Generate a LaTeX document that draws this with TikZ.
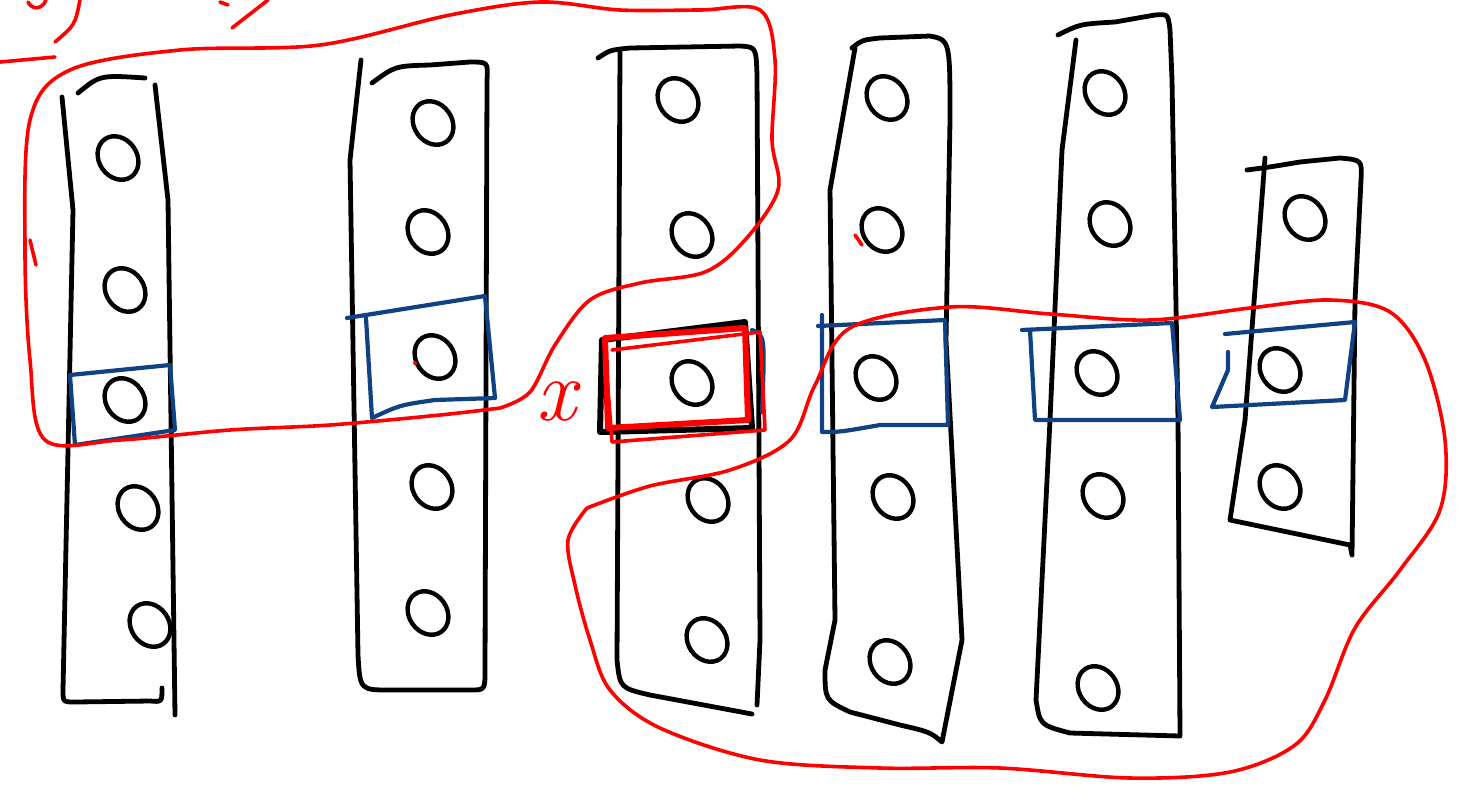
\documentclass[tikz,border=0pt]{standalone}
\usetikzlibrary{shapes.geometric}
\definecolor{penblue}{RGB}{14,66,130}
\definecolor{penred}{RGB}{255,0,0}
\begin{document}
\begin{tikzpicture}[x=0.5pt, y=-0.5pt, line cap=round, line join=round,
    col/.style={line width=2.4pt, black},
    neuron/.style={draw, ellipse, line width=2.2pt, minimum width=19pt, minimum height=23pt, inner sep=0pt, rotate=35},
    sel/.style={line width=2.1pt, penblue},
    loop/.style={line width=1.8pt, penred},
    lab/.style={text=penred, inner sep=1pt}]
  \useasboundingbox (0,0) rectangle (1460,788);
  % column 1
  \draw[col] (62,97) -- (73,210) -- (63,690) .. controls (63,702) .. (75,702) -- (150,701) .. controls (162,702) .. (162,688);
  \draw[col] (155,85) -- (168,200) -- (175,715);
  \draw[col] (78,93) .. controls (100,75) .. (145,78);
  % column 2
  \draw[col] (361,60) -- (350,160) -- (358,655) .. controls (360,690) .. (390,690) -- (470,690) .. controls (485,690) .. (485,670) -- (487,80) .. controls (488,62) .. (470,62) -- (430,65) .. controls (395,66) .. (372,83);
  % column 3
  \draw[col] (620,52) -- (617,660) .. controls (620,688) .. (650,695) -- (752,714);
  \draw[col] (757,705) -- (760,640) -- (757,75) .. controls (756,47) .. (740,46) -- (630,48) .. controls (610,50) .. (598,58);
  % column 4
  \draw[col] (855,48) -- (830,190) -- (835,620) -- (825,670) .. controls (825,700) .. (850,712) -- (900,725) .. controls (930,732) .. (942,742) -- (962,640) -- (946,340) -- (950,120) .. controls (950,40) .. (930,36) -- (880,38) .. controls (862,40) .. (852,48);
  % column 5
  \draw[col] (1076,40) -- (1062,150) -- (1050,420) -- (1036,700) .. controls (1040,725) .. (1070,733) -- (1180,736) -- (1178,420) -- (1172,80) -- (1170,30) .. controls (1168,14) .. (1155,15) -- (1115,22) .. controls (1080,24) .. (1058,35);
  % column 6
  \draw[col] (1265,158) -- (1245,420) -- (1230,520) -- (1350,545) -- (1352,555) -- (1355,300) -- (1361,180) .. controls (1362,160) .. (1340,158) -- (1300,162) .. controls (1270,167) .. (1247,170);
  % neurons
  \foreach \name/\px/\py in {a1/118/158, a2/125/290, a3/125/400, a4/138/508, a5/150/625,
      b1/433/123, b2/428/232, b3/435/357, b4/432/487, b5/428/613,
      c1/678/100, c2/692/235, c3/692/383, c4/708/500, c5/707/640,
      d1/887/98, d2/882/230, d3/876/378, d4/893/497, d5/890/662,
      e1/1105/93, e2/1110/224, e3/1097/373, e4/1103/496, e5/1098/688,
      f1/1305/218, f2/1280/370, f3/1280/487}
    \node[neuron] (\name) at (\px,\py) {};
  % selected units
  \draw[sel] (70,375) -- (170,365) -- (175,430) -- (75,445) -- cycle;
  \draw[sel] (347,318) -- (485,296) -- (495,398) -- (435,400) .. controls (400,405) .. (372,418) -- (366,318);
  \draw[sel] (752,330) .. controls (765,335) .. (762,412);
  \draw[sel] (818,326) -- (945,320) -- (948,425) -- (880,425) .. controls (840,432) .. (822,432) -- (822,315);
  \draw[sel] (1022,330) -- (1172,323) -- (1180,420) -- (1035,420) -- (1030,330);
  \draw[sel] (1225,334) -- (1355,322) -- (1345,400) -- (1212,407) -- (1228,370) -- (1228,352);
  % current unit
  \draw[col, line width=3pt] (602,340) -- (745,322) -- (752,428) -- (600,432) -- cycle;
  \draw[line width=3pt, penred] (605,338) -- (745,328) -- (748,420) -- (608,428) -- cycle;
  \draw[loop] (612,350) -- (760,332) -- (765,430) -- (612,442) -- (605,350);
  \node[lab, font=\fontsize{44}{44}\selectfont\itshape] (xlab) at (556,402) {x};
  % left receptive field
  \draw[loop] plot[smooth, tension=0.55] coordinates {(500,408) (530,392) (555,345) (590,300) (640,283) (705,272) (745,240) (778,190) (772,140) (775,60) (760,10) (700,10) (620,10) (540,2) (450,15) (320,45) (180,50) (70,70) (30,120) (25,250) (30,360) (45,440) (120,440) (230,430) (330,425) (440,415) (500,408)};
  \draw[loop] (30,240) -- (36,265);
  % right receptive field
  \draw[loop] plot[smooth, tension=0.55] coordinates {(587,508) (650,486) (730,470) (790,440) (815,385) (850,328) (950,307) (1050,314) (1150,320) (1250,308) (1330,300) (1390,312) (1425,360) (1445,440) (1440,510) (1400,570) (1355,628) (1325,700) (1295,745) (1230,772) (1130,778) (1000,768) (880,768) (760,760) (660,728) (610,690) (590,640) (575,585) (568,540) (587,508)};
  \draw[loop] (855,235) -- (862,245);
  \fill[penred] (415,363) circle (2);
  % fragments cut off at the top
  \draw[loop] (0,62) -- (55,57);
  \draw[loop] (55,42) .. controls (75,25) .. (80,0);
  \draw[loop] (28,2) .. controls (32,10) and (42,10) .. (46,0);
  \draw[loop] (232,28) -- (268,0);
  \draw[loop] (220,2) -- (228,5);
\end{tikzpicture}
\end{document}
